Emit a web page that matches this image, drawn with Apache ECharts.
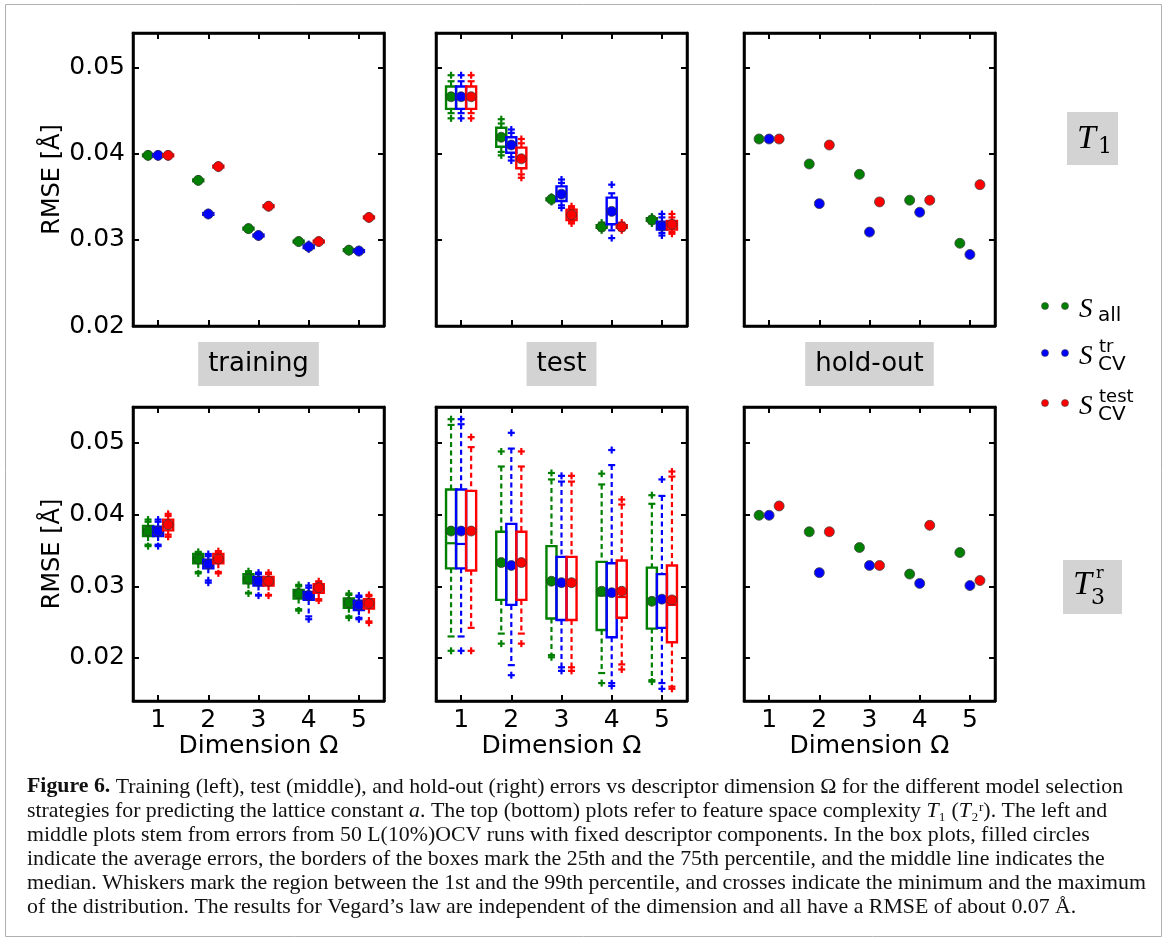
<!DOCTYPE html>
<html>
<head>
<meta charset="utf-8">
<script src="https://cdn.jsdelivr.net/npm/echarts@6/dist/echarts.min.js"></script>
<style>
  html, body { margin: 0; padding: 0; background: #fff; }
  #chart { width: 1167px; height: 942px; }
</style>
</head>
<body>
<div id="chart"></div>
<script>
// Descriptor dimensions on the x axis
const dimensions = [1, 2, 3, 4, 5];
const strategyNames = ['S_all', 'S_CV^tr', 'S_CV^test'];
const strategyColors = ['#008000', '#0000ff', '#ff0000'];
const panelTitles = ['training', 'test', 'hold-out'];

// Box statistics per dimension: [min, p1, q1, median, q3, p99, max, mean]
// Feature space T1, training errors
const trainT1All = [
  [0.0396, 0.03965, 0.0397, 0.0398, 0.0399, 0.03995, 0.0400, 0.0398],
  [0.0367, 0.03675, 0.0368, 0.0369, 0.0370, 0.03705, 0.0371, 0.0369],
  [0.0311, 0.03115, 0.0312, 0.0313, 0.0314, 0.03145, 0.0315, 0.0313],
  [0.0296, 0.02965, 0.0297, 0.0298, 0.0299, 0.02995, 0.0300, 0.0298],
  [0.0286, 0.02865, 0.0287, 0.0288, 0.0289, 0.02895, 0.0290, 0.0288]
];
const trainT1CvTr = [
  [0.0396, 0.03965, 0.0397, 0.0398, 0.0399, 0.03995, 0.0400, 0.0398],
  [0.0328, 0.03285, 0.0329, 0.0330, 0.0331, 0.03315, 0.0332, 0.0330],
  [0.0303, 0.03035, 0.0304, 0.0305, 0.0306, 0.03065, 0.0307, 0.0305],
  [0.0289, 0.0290, 0.02905, 0.0292, 0.02935, 0.0294, 0.0295, 0.0292],
  [0.0285, 0.02855, 0.0286, 0.0287, 0.0288, 0.02885, 0.0289, 0.0287]
];
const trainT1CvTest = [
  [0.0396, 0.03965, 0.0397, 0.0398, 0.0399, 0.03995, 0.0400, 0.0398],
  [0.0383, 0.03835, 0.0384, 0.0385, 0.0386, 0.03865, 0.0387, 0.0385],
  [0.0337, 0.03375, 0.0338, 0.0339, 0.0340, 0.03405, 0.0341, 0.0339],
  [0.0296, 0.02965, 0.0297, 0.0298, 0.0299, 0.02995, 0.0300, 0.0298],
  [0.0324, 0.03245, 0.0325, 0.0326, 0.0327, 0.03275, 0.0328, 0.0326]
];

// Feature space T1, test errors
const testT1All = [
  [0.0441, 0.0447, 0.0452, 0.0465, 0.0478, 0.0484, 0.0491, 0.0466],
  [0.0398, 0.0402, 0.0408, 0.0419, 0.0430, 0.0435, 0.0440, 0.0419],
  [0.0344, 0.03445, 0.0346, 0.0347, 0.0348, 0.03495, 0.0350, 0.0347],
  [0.0311, 0.0312, 0.0314, 0.0315, 0.0317, 0.0319, 0.0320, 0.0315],
  [0.0319, 0.0320, 0.0322, 0.0323, 0.0325, 0.0326, 0.0327, 0.0323]
];
const testT1CvTr = [
  [0.0441, 0.0447, 0.0452, 0.0465, 0.0478, 0.0484, 0.0491, 0.0466],
  [0.0392, 0.0396, 0.0401, 0.0408, 0.0419, 0.0424, 0.0428, 0.0410],
  [0.0337, 0.0340, 0.0345, 0.0352, 0.0362, 0.0366, 0.0370, 0.0353],
  [0.0302, 0.0311, 0.0318, 0.0330, 0.0349, 0.0354, 0.0364, 0.0333],
  [0.0305, 0.0308, 0.0312, 0.0315, 0.0321, 0.0326, 0.0330, 0.0316]
];
const testT1CvTest = [
  [0.0441, 0.0447, 0.0452, 0.0465, 0.0478, 0.0484, 0.0491, 0.0466],
  [0.0372, 0.0376, 0.0383, 0.0393, 0.0407, 0.0412, 0.0417, 0.0394],
  [0.0319, 0.0321, 0.0323, 0.0329, 0.0335, 0.0337, 0.0339, 0.0329],
  [0.0311, 0.0312, 0.0314, 0.0315, 0.0317, 0.0319, 0.0320, 0.0315],
  [0.0307, 0.0309, 0.0312, 0.0318, 0.0322, 0.0326, 0.0330, 0.0318]
];

// Feature space T1, hold-out errors
const holdT1All = [0.0417, 0.0388, 0.0376, 0.0346, 0.0296];
const holdT1CvTr = [0.0417, 0.0342, 0.0309, 0.0332, 0.0283];
const holdT1CvTest = [0.0417, 0.0410, 0.0344, 0.0346, 0.0364];

// Feature space T3^r, training errors
const trainT3All = [
  [0.0356, 0.0358, 0.0370, 0.0376, 0.0384, 0.0390, 0.0393, 0.0377],
  [0.0318, 0.0320, 0.0332, 0.0338, 0.0345, 0.0347, 0.0348, 0.0338],
  [0.0290, 0.0291, 0.0304, 0.0310, 0.0317, 0.0320, 0.0321, 0.0310],
  [0.0266, 0.0268, 0.0283, 0.0290, 0.0295, 0.0300, 0.0302, 0.0290],
  [0.0256, 0.0258, 0.0270, 0.0277, 0.0283, 0.0288, 0.0290, 0.0277]
];
const trainT3CvTr = [
  [0.0356, 0.0358, 0.0370, 0.0376, 0.0383, 0.0390, 0.0393, 0.0377],
  [0.0305, 0.0308, 0.0325, 0.0331, 0.0337, 0.0342, 0.0345, 0.0331],
  [0.0287, 0.0288, 0.0301, 0.0307, 0.0313, 0.0317, 0.0319, 0.0307],
  [0.0254, 0.0258, 0.0281, 0.0287, 0.0292, 0.0298, 0.0301, 0.0287],
  [0.0254, 0.0256, 0.0267, 0.0274, 0.0280, 0.0285, 0.0287, 0.0274]
];
const trainT3CvTest = [
  [0.0369, 0.0372, 0.0378, 0.0386, 0.0393, 0.0398, 0.0401, 0.0386],
  [0.0318, 0.0320, 0.0332, 0.0338, 0.0345, 0.0347, 0.0349, 0.0338],
  [0.0287, 0.0288, 0.0301, 0.0307, 0.0313, 0.0317, 0.0319, 0.0307],
  [0.0280, 0.0282, 0.0291, 0.0298, 0.0303, 0.0305, 0.0307, 0.0298],
  [0.0249, 0.0251, 0.0269, 0.0276, 0.0282, 0.0286, 0.0288, 0.0276]
];

// Feature space T3^r, test errors
const testT3All = [
  [0.0210, 0.0230, 0.0325, 0.0360, 0.0435, 0.0525, 0.0533, 0.0377],
  [0.0220, 0.0234, 0.0281, 0.0333, 0.0376, 0.0467, 0.0488, 0.0333],
  [0.0201, 0.0204, 0.0255, 0.0306, 0.0356, 0.0449, 0.0458, 0.0307],
  [0.0165, 0.0179, 0.0239, 0.0287, 0.0334, 0.0442, 0.0457, 0.0293],
  [0.0167, 0.0169, 0.0241, 0.0282, 0.0326, 0.0415, 0.0427, 0.0279]
];
const testT3CvTr = [
  [0.0210, 0.0230, 0.0325, 0.0359, 0.0435, 0.0526, 0.0533, 0.0377],
  [0.0176, 0.0190, 0.0274, 0.0327, 0.0387, 0.0492, 0.0514, 0.0329],
  [0.0182, 0.0187, 0.0253, 0.0305, 0.0341, 0.0446, 0.0454, 0.0305],
  [0.0161, 0.0165, 0.0229, 0.0291, 0.0332, 0.0469, 0.0490, 0.0291],
  [0.0157, 0.0165, 0.0242, 0.0284, 0.0317, 0.0426, 0.0449, 0.0282]
];
const testT3CvTest = [
  [0.0210, 0.0242, 0.0322, 0.0375, 0.0433, 0.0494, 0.0508, 0.0377],
  [0.0220, 0.0234, 0.0281, 0.0333, 0.0376, 0.0467, 0.0488, 0.0333],
  [0.0182, 0.0187, 0.0253, 0.0305, 0.0341, 0.0446, 0.0454, 0.0305],
  [0.0184, 0.0191, 0.0256, 0.0285, 0.0336, 0.0414, 0.0421, 0.0293],
  [0.0157, 0.0160, 0.0222, 0.0274, 0.0329, 0.0453, 0.0460, 0.0281]
];

// Feature space T3^r, hold-out errors
const holdT3All = [0.0399, 0.0376, 0.0354, 0.0317, 0.0347];
const holdT3CvTr = [0.0399, 0.0319, 0.0329, 0.0304, 0.0301];
const holdT3CvTest = [0.0412, 0.0376, 0.0329, 0.0385, 0.0308];

// ---- layout ----
const colLeft = [133, 436, 744];
const colWidth = 251;
const rowTop = [33, 407];
const rowHeight = [293, 294];
const rowYRange = [[0.02, 0.054], [0.014, 0.055]];
const groupOffsets = [-0.2, 0, 0.2];

const panels = [
  { row: 0, col: 0, kind: 'box', data: [trainT1All, trainT1CvTr, trainT1CvTest] },
  { row: 0, col: 1, kind: 'box', data: [testT1All, testT1CvTr, testT1CvTest] },
  { row: 0, col: 2, kind: 'point', data: [holdT1All, holdT1CvTr, holdT1CvTest] },
  { row: 1, col: 0, kind: 'box', data: [trainT3All, trainT3CvTr, trainT3CvTest] },
  { row: 1, col: 1, kind: 'box', data: [testT3All, testT3CvTr, testT3CvTest] },
  { row: 1, col: 2, kind: 'point', data: [holdT3All, holdT3CvTr, holdT3CvTest] }
];

const sansFont = '"DejaVu Sans", sans-serif';
const serifFont = '"Liberation Serif", "DejaVu Serif", serif';

const frameLine = { show: true, lineStyle: { color: '#000', width: 2.5 } };
const innerTicks = { show: true, inside: true, length: 6, lineStyle: { color: '#000', width: 2 } };

function xLabel(v) {
  return Math.abs(v - Math.round(v)) < 1e-6 ? String(Math.round(v)) : '';
}
function yLabel(v) {
  return Math.abs(v * 100 - Math.round(v * 100)) < 1e-6 ? v.toFixed(2) : '';
}

// Draws one box: dashed whiskers with caps, box, median, min/max crosses and mean dot
function makeBox(color) {
  return function (params, api) {
    const xv = api.value(0);
    const X = api.coord([xv, api.value(4)])[0];
    const Y = (k) => api.coord([xv, api.value(k)])[1];
    const half = api.size([0.2, 0])[0] / 2;
    const cap = half * 0.7;
    const solid = { stroke: color, lineWidth: 2.2, fill: null };
    const dashed = { stroke: color, lineWidth: 2.2, lineDash: [5, 3.5], fill: null };
    const plus = (cy) => [
      { type: 'line', shape: { x1: X - 3.5, y1: cy, x2: X + 3.5, y2: cy }, style: solid },
      { type: 'line', shape: { x1: X, y1: cy - 3.5, x2: X, y2: cy + 3.5 }, style: solid }
    ];
    const children = [
      { type: 'line', shape: { x1: X, y1: Y(6), x2: X, y2: Y(5) }, style: dashed },
      { type: 'line', shape: { x1: X, y1: Y(3), x2: X, y2: Y(2) }, style: dashed },
      { type: 'line', shape: { x1: X - cap, y1: Y(6), x2: X + cap, y2: Y(6) }, style: solid },
      { type: 'line', shape: { x1: X - cap, y1: Y(2), x2: X + cap, y2: Y(2) }, style: solid },
      { type: 'rect', shape: { x: X - half, y: Y(5), width: 2 * half, height: Y(3) - Y(5) },
        style: { stroke: color, lineWidth: 2.4, fill: 'none' } },
      { type: 'line', shape: { x1: X - half, y1: Y(4), x2: X + half, y2: Y(4) }, style: solid }
    ].concat(plus(Y(7)), plus(Y(1)), [
      { type: 'circle', shape: { cx: X, cy: Y(8), r: 5 },
        style: { fill: color, stroke: '#333', lineWidth: 0.7 } }
    ]);
    return { type: 'group', children: children };
  };
}

const grids = [], xAxes = [], yAxes = [], series = [];

panels.forEach((p, gi) => {
  grids.push({
    left: colLeft[p.col], top: rowTop[p.row], width: colWidth, height: rowHeight[p.row],
    show: true, borderColor: '#000', borderWidth: 2.5, backgroundColor: '#fff'
  });
  const isBottom = p.row === 1;
  const isLeft = p.col === 0;
  xAxes.push({
    type: 'value', gridIndex: gi, position: 'bottom', min: 0.5, max: 5.5, splitNumber: 5,
    axisLine: frameLine, axisTick: innerTicks, splitLine: { show: false },
    axisLabel: { show: isBottom, formatter: xLabel, fontSize: 25, color: '#000', fontFamily: sansFont, margin: 7 },
    name: isBottom ? 'Dimension Ω' : '', nameLocation: 'middle', nameGap: 32,
    nameTextStyle: { fontSize: 25, color: '#000', fontFamily: sansFont }
  });
  xAxes.push({
    type: 'value', gridIndex: gi, position: 'top', min: 0.5, max: 5.5, splitNumber: 5,
    axisLine: frameLine, axisTick: innerTicks, splitLine: { show: false }, axisLabel: { show: false }
  });
  const yBase = {
    type: 'value', gridIndex: gi, min: rowYRange[p.row][0], max: rowYRange[p.row][1],
    axisLine: frameLine, axisTick: innerTicks, splitLine: { show: false }
  };
  if (p.row === 0) yBase.interval = 0.01; else yBase.splitNumber = 4;
  yAxes.push(Object.assign({}, yBase, {
    position: 'left',
    axisLabel: { show: isLeft, formatter: yLabel, fontSize: 25, color: '#000', fontFamily: sansFont, margin: 8 },
    name: isLeft ? 'RMSE [Å]' : '', nameLocation: 'middle', nameGap: 68, nameRotate: 90,
    nameTextStyle: { fontSize: 24, color: '#000', fontFamily: sansFont }
  }));
  yAxes.push(Object.assign({}, yBase, { position: 'right', axisLabel: { show: false } }));

  p.data.forEach((vals, si) => {
    if (p.kind === 'box') {
      series.push({
        type: 'custom', name: strategyNames[si], xAxisIndex: 2 * gi, yAxisIndex: 2 * gi,
        renderItem: makeBox(strategyColors[si]),
        encode: { x: 0, y: [1, 2, 3, 4, 5, 6, 7, 8] },
        data: vals.map((s, k) => [dimensions[k] + groupOffsets[si]].concat(s)),
        z: 3 + si, silent: true
      });
    } else {
      series.push({
        type: 'scatter', name: strategyNames[si], xAxisIndex: 2 * gi, yAxisIndex: 2 * gi,
        symbol: 'circle', symbolSize: 10,
        itemStyle: { color: strategyColors[si], borderColor: '#444', borderWidth: 0.8, opacity: 1 },
        data: vals.map((v, k) => [dimensions[k] + groupOffsets[si], v]),
        z: 3 + si, silent: true
      });
    }
  });
});

// ---- annotations ----
const graphics = [];
// figure frame
graphics.push({ type: 'rect', shape: { x: 5.5, y: 4.5, width: 1156, height: 932 },
  style: { fill: 'none', stroke: '#b0b0b0', lineWidth: 1 }, z: 0 });

// column titles between the rows
panelTitles.forEach((t, c) => {
  graphics.push({
    type: 'text', x: colLeft[c] + colWidth / 2, y: 364, z: 10,
    style: { text: t, font: '26px ' + sansFont, fill: '#000', align: 'center', verticalAlign: 'middle',
      backgroundColor: '#d3d3d3', padding: [10, 10, 8, 10] }
  });
});

// row labels: T1 and T3^r
graphics.push({ type: 'rect', shape: { x: 1067, y: 112, width: 51, height: 53 }, style: { fill: '#d3d3d3' }, z: 10 });
graphics.push({ type: 'text', x: 1077, y: 139, z: 11,
  style: { text: 'T', font: 'italic 34px ' + serifFont, fill: '#000', verticalAlign: 'middle' } });
graphics.push({ type: 'text', x: 1098, y: 147, z: 11,
  style: { text: '1', font: '22px "DejaVu Serif", serif', fill: '#000', verticalAlign: 'middle' } });
graphics.push({ type: 'rect', shape: { x: 1063, y: 560, width: 59, height: 54 }, style: { fill: '#d3d3d3' }, z: 10 });
graphics.push({ type: 'text', x: 1073, y: 585, z: 11,
  style: { text: 'T', font: 'italic 34px ' + serifFont, fill: '#000', verticalAlign: 'middle' } });
graphics.push({ type: 'text', x: 1091, y: 598, z: 11,
  style: { text: '3', font: '22px "DejaVu Serif", serif', fill: '#000', verticalAlign: 'middle' } });
graphics.push({ type: 'text', x: 1096, y: 574, z: 11,
  style: { text: 'r', font: '16px "DejaVu Serif", serif', fill: '#000', verticalAlign: 'middle' } });

// legend
const legendY = [306, 353, 403];
const legendSup = ['', 'tr', 'test'];
const legendSub = ['all', 'CV', 'CV'];
legendY.forEach((y, i) => {
  [1045, 1065].forEach((x) => {
    graphics.push({ type: 'circle', shape: { cx: x, cy: y, r: 3.5 }, z: 10,
      style: { fill: strategyColors[i], stroke: '#444', lineWidth: 0.6 } });
  });
  graphics.push({ type: 'text', x: 1079, y: y + 4, z: 10,
    style: { text: 'S', font: 'italic 27px ' + serifFont, fill: '#000', verticalAlign: 'middle' } });
  if (legendSup[i]) {
    graphics.push({ type: 'text', x: 1099, y: y - 6, z: 10,
      style: { text: legendSup[i], font: '18px ' + sansFont, fill: '#000', verticalAlign: 'middle' } });
  }
  graphics.push({ type: 'text', x: 1098, y: i === 0 ? y + 10 : y + 12, z: 10,
    style: { text: legendSub[i], font: '20px ' + sansFont, fill: '#000', verticalAlign: 'middle' } });
});

// caption
const captionLines = [
  '{b|Figure 6.} Training (left), test (middle), and hold-out (right) errors vs descriptor dimension Ω for the different model selection',
  'strategies for predicting the lattice constant {i|a}. The top (bottom) plots refer to feature space complexity {i|T}₁ ({i|T}₂ʳ). The left and',
  'middle plots stem from errors from 50 L(10%)OCV runs with fixed descriptor components. In the box plots, filled circles',
  'indicate the average errors, the borders of the boxes mark the 25th and the 75th percentile, and the middle line indicates the',
  'median. Whiskers mark the region between the 1st and the 99th percentile, and crosses indicate the minimum and the maximum',
  'of the distribution. The results for Vegard’s law are independent of the dimension and all have a RMSE of about 0.07 Å.'
];
captionLines.forEach((line, i) => {
  graphics.push({
    type: 'text', x: 27, y: 787 + i * 24, z: 10, scaleX: 1.04,
    style: {
      text: line, fontSize: 21, fontFamily: serifFont, fill: '#111', verticalAlign: 'middle',
      rich: {
        b: { fontWeight: 'bold', fontSize: 21, fontFamily: serifFont, fill: '#111' },
        i: { fontStyle: 'italic', fontSize: 21, fontFamily: serifFont, fill: '#111' }
      }
    }
  });
});

const chart = echarts.init(document.getElementById('chart'), null, { renderer: 'canvas' });
chart.setOption({
  backgroundColor: '#fff',
  animation: false,
  grid: grids,
  xAxis: xAxes,
  yAxis: yAxes,
  series: series,
  graphic: { elements: graphics }
});
</script>
</body>
</html>
